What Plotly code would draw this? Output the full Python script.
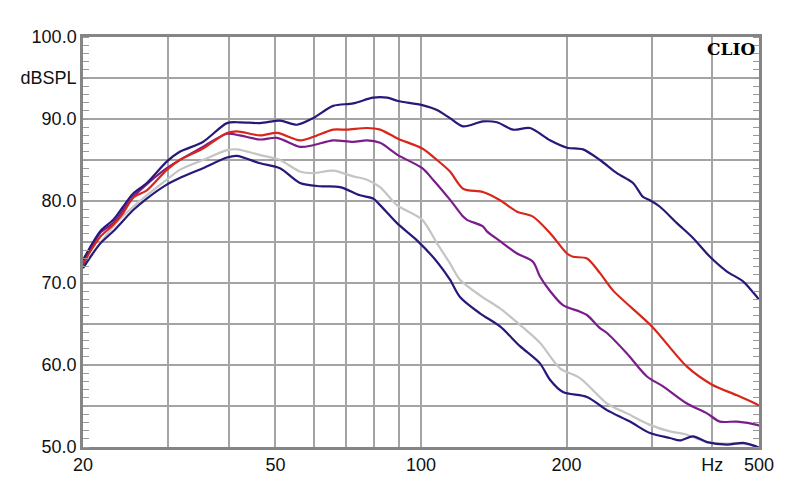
import plotly.graph_objects as go

# Frequency response curves (Hz, dBSPL)
a_f = [20, 21.7, 23.1, 24.2, 25.4, 27.1, 29.8, 31.7, 35.4, 39.7, 42.2, 46.5, 51.1, 55.4, 59.8, 65.8, 72.4, 79.6, 85.1, 89.6, 100.6, 107.9, 114.8, 122.2, 134.3, 143.6, 155.0, 168.0, 184.8, 200.4, 216.2, 234.5, 254.2, 274.4, 287.8, 297.5, 312.0, 338.3, 365.1, 395.9, 429.3, 463.3, 495.1, 500]
a_db = [72.8, 76.3, 77.7, 79.3, 80.9, 82.2, 84.8, 86.0, 87.2, 89.5, 89.6, 89.5, 89.8, 89.3, 90.1, 91.6, 91.9, 92.6, 92.6, 92.2, 91.7, 91.1, 90.1, 89.1, 89.7, 89.6, 88.7, 88.9, 87.4, 86.5, 86.3, 85.0, 83.4, 82.2, 80.5, 80.1, 79.3, 77.3, 75.5, 73.2, 71.4, 70.2, 68.3, 68.0]

b_f = [20, 21.7, 23.1, 24.2, 25.4, 27.1, 29.8, 31.7, 35.4, 39.7, 41.6, 46.5, 50.4, 56.2, 59.8, 65.8, 70.3, 77.3, 82.3, 89.6, 100.6, 107.9, 114.8, 122.2, 134.3, 145.7, 158.0, 170.4, 184.8, 200.4, 206.2, 220.4, 234.5, 249.4, 300.3, 354.8, 400, 450.3, 495.1, 500]
b_db = [72.4, 75.6, 77.1, 78.5, 80.4, 81.3, 83.8, 85.0, 86.4, 88.3, 88.5, 88.0, 88.3, 87.4, 87.8, 88.7, 88.7, 88.9, 88.7, 87.6, 86.4, 85.0, 83.6, 81.5, 81.1, 80.1, 78.7, 78.1, 76.1, 73.6, 73.2, 73.0, 71.2, 69.1, 64.7, 59.8, 57.6, 56.3, 55.2, 55.0]

c_f = [20, 21.7, 23.1, 25.4, 29.8, 35.4, 39.7, 42.2, 46.5, 50.4, 56.2, 59.8, 65.8, 72.4, 77.3, 82.3, 89.6, 100.6, 105.9, 115.0, 122.2, 124.5, 134.3, 136.9, 145.7, 158.0, 170.4, 176.2, 185.0, 196.6, 213.2, 220.4, 234.5, 242.4, 266.6, 293.3, 316.5, 354.8, 390.3, 415.2, 450.3, 495.1, 500]
c_db = [72.2, 76.1, 77.3, 80.5, 84.0, 86.6, 88.2, 88.0, 87.5, 87.7, 86.6, 86.8, 87.4, 87.2, 87.4, 87.1, 85.6, 84.0, 82.6, 80.1, 78.1, 77.7, 76.9, 76.3, 75.1, 73.6, 72.6, 70.8, 69.0, 67.3, 66.5, 66.1, 64.5, 63.9, 61.4, 58.6, 57.4, 55.3, 54.1, 53.1, 53.1, 52.7, 52.6]

d_f = [20, 23.1, 25.4, 29.8, 31.7, 35.4, 39.7, 41.6, 46.5, 51.1, 56.2, 59.8, 65.8, 72.4, 77.3, 82.3, 89.2, 100.6, 108.0, 114.8, 120.4, 132.4, 145.7, 160.2, 176.2, 193.8, 213.2, 242.4, 266.6, 297.5, 327.2, 354.8, 390.3, 441.7, 478.9, 500]
d_db = [72.0, 76.9, 79.3, 82.6, 83.8, 85.0, 86.2, 86.3, 85.6, 85.0, 83.6, 83.4, 83.7, 83.0, 82.6, 81.7, 79.5, 77.7, 74.8, 72.4, 70.4, 68.5, 66.9, 64.9, 62.7, 59.6, 58.4, 55.3, 54.1, 52.7, 51.9, 51.5, 50.6, 50.4, 50.3, 49.9]

e_f = [20, 21.7, 23.1, 25.4, 27.1, 29.8, 31.7, 35.4, 39.7, 41.6, 46.5, 51.1, 56.2, 61.8, 68.0, 74.8, 79.6, 82.3, 89.2, 98.1, 107.9, 114.8, 120.4, 132.4, 145.7, 160.2, 176.2, 184.8, 196.6, 220.4, 242.4, 270.5, 297.5, 327.2, 343.2, 365.1, 390.3, 429.3, 463.3, 485.8, 500]
e_db = [71.8, 74.8, 76.3, 78.9, 80.3, 82.0, 82.8, 84.0, 85.3, 85.5, 84.6, 84.0, 82.2, 81.8, 81.7, 80.7, 80.3, 79.5, 77.3, 75.2, 72.6, 70.4, 68.3, 66.3, 64.7, 62.3, 60.2, 58.2, 56.7, 56.1, 54.5, 53.1, 51.7, 51.1, 50.8, 51.3, 50.6, 50.3, 50.5, 50.2, 49.9]

x_tickvals = [20, 30, 40, 50, 60, 70, 80, 90, 100, 200, 300, 400, 500]
x_ticktext = ["20", "", "", "50", "", "", "", "", "100", "200", "", "Hz", "500"]
y_tickvals = [50, 55, 60, 65, 70, 75, 80, 85, 90, 95, 100]
y_ticktext = ["50.0", "", "60.0", "", "70.0", "", "80.0", "", "90.0", "dBSPL", "100.0"]

NAVY = "#27197a"
RED = "#d8261a"
PURPLE = "#7b1c8c"
GRAY = "#c4c4c4"

fig = go.Figure()
series = [
    (d_f, d_db, GRAY),
    (e_f, e_db, NAVY),
    (c_f, c_db, PURPLE),
    (b_f, b_db, RED),
    (a_f, a_db, NAVY),
]
for f, db, col in series:
    fig.add_trace(go.Scatter(x=f, y=db, mode="lines",
                             line=dict(color=col, width=2.2, shape="spline", smoothing=0.8),
                             hoverinfo="skip", showlegend=False))

fig.add_annotation(x=1, y=1, xref="paper", yref="paper", xanchor="right", yanchor="top",
                   xshift=-2, yshift=0, text="<b>CLIO</b>", showarrow=False,
                   font=dict(family="DejaVu Serif", size=17, color="#000000"))

axis_font = dict(family="Liberation Sans, Arial, sans-serif", size=18, color="#111111")
fig.update_layout(
    width=800, height=504,
    margin=dict(l=83, r=41, t=37, b=57),
    paper_bgcolor="white", plot_bgcolor="white",
    xaxis=dict(type="log", range=[1.30103, 2.69897], tickvals=x_tickvals, ticktext=x_ticktext,
               showgrid=True, gridcolor="#a4a4a4", gridwidth=1.5,
               showline=True, linecolor="#858585", linewidth=2.5, mirror=True,
               ticks="", tickfont=axis_font, zeroline=False),
    yaxis=dict(range=[50, 100], tickvals=y_tickvals, ticktext=y_ticktext,
               showgrid=True, gridcolor="#a4a4a4", gridwidth=1.5,
               showline=True, linecolor="#858585", linewidth=2.5, mirror="allticks",
               ticks="", tickfont=axis_font, zeroline=False,
               minor=dict(dtick=1, ticks="inside", ticklen=6, tickcolor="#9a9a9a", tickwidth=1, showgrid=False)),
)

fig.write_html("out.html")
